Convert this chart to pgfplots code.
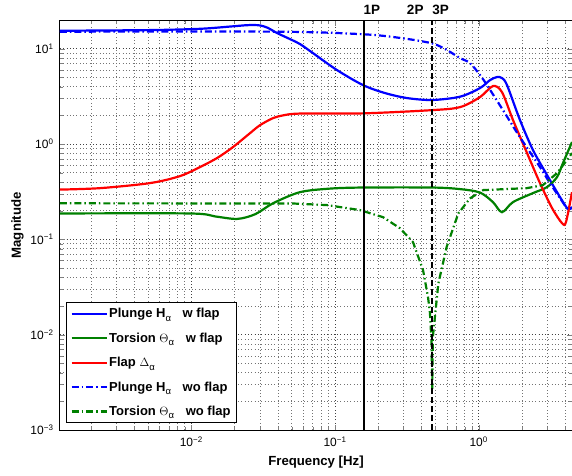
\documentclass[border=0pt]{standalone}
\usepackage{pgfplots}
\pgfplotsset{compat=1.18}
\usepackage{fontspec}
\setmainfont{Liberation Sans}
\newcommand{\logtick}{10\textsuperscript{\pgfmathtruncatemacro\myexp{round(\tick)}\ifnum\myexp<0 −\number-\myexp\relax\else\number\myexp\fi}}
\newcommand{\sub}[1]{\raisebox{-0.5ex}{\fontsize{9.5}{10}\selectfont\mdseries #1}}
\definecolor{mblue}{rgb}{0,0,1}
\definecolor{mgreen}{rgb}{0,0.5,0}
\definecolor{mred}{rgb}{1,0,0}
\tikzset{mdashdot/.style={dash pattern=on 7pt off 3pt on 1.5pt off 3pt}}
\begin{document}
\begin{tikzpicture}
\begin{axis}[name=ax,
  xmode=log, ymode=log, log basis x=10, log basis y=10,
  scale only axis, width=512pt, height=409.3pt,
  xmin=0.00122, xmax=4.46, ymin=1e-3, ymax=19.7,
  xticklabel={\logtick}, yticklabel={\logtick},
  tick label style={font=\fontsize{12}{14}\selectfont},
  xticklabel style={yshift=-3pt},
  yticklabel style={xshift=-3pt},
  xlabel={Frequency [Hz]}, ylabel={Magnitude},
  label style={font=\fontsize{13.2}{15}\selectfont\bfseries},
  xlabel style={yshift=-2pt},
  grid=both,
  major grid style={dash pattern=on 0.7pt off 2.6pt, black!75, line width=0.6pt},
  minor grid style={dash pattern=on 0.7pt off 2.6pt, black!55, line width=0.6pt},
  axis line style={line width=1pt},
  major tick length=5pt, minor tick length=3pt,
  clip mode=individual,
  legend cell align=left,
  legend style={at={(rel axis cs:0.0117,0.017)}, anchor=south west,
    font=\fontsize{13}{14}\selectfont\bfseries, draw=black, line width=1pt,
    row sep=10.5pt, inner xsep=4pt, inner ysep=4pt, nodes={inner sep=1.5pt}},
  legend image code/.code={\draw[#1] (0pt,0pt) -- (35pt,0pt);},
]
% Plunge w flap
\addplot[mblue, line width=2.2pt, smooth, tension=0.5] coordinates {
(0.00122,15.45) (0.00516,15.7) (0.01153,16.2) (0.0186,17.1) (0.0240,17.65) (0.0275,17.75) (0.0305,17.5) (0.0340,16.6)
(0.0396,14.6) (0.0488,12.6) (0.0571,11.2) (0.0703,9.0) (0.1032,5.98) (0.1566,4.16)
(0.2229,3.43) (0.317,3.04) (0.473,2.90) (0.741,3.14) (1.021,3.87) (1.199,4.69) (1.34,5.05)
(1.452,4.93) (1.574,4.16) (1.937,1.79) (2.387,0.865) (2.99,0.473) (3.68,0.278) (4.18,0.208) (4.46,0.218)};
\addlegendentry{Plunge H\sub{α}\hspace{0.9em}w flap}
% Torsion w flap
\addplot[mgreen, line width=2.2pt, smooth, tension=0.5] coordinates {
(0.00122,0.187) (0.00982,0.187) (0.01467,0.174) (0.0209,0.164) (0.0279,0.184) (0.0372,0.240)
(0.0571,0.313) (0.0923,0.341) (0.1566,0.350) (0.476,0.350) (0.741,0.337) (1.021,0.310)
(1.257,0.246) (1.452,0.193) (1.732,0.246) (2.387,0.306) (2.99,0.354) (3.51,0.451) (3.86,0.632) (4.46,1.05)};
\addlegendentry{Torsion $\Theta$\sub{α}\hspace{0.9em}w flap}
% Flap
\addplot[mred, line width=2.2pt, smooth, tension=0.5] coordinates {
(0.00122,0.333) (0.00233,0.345) (0.00519,0.390) (0.00837,0.462) (0.01149,0.574) (0.0151,0.713)
(0.0195,0.930) (0.0256,1.30) (0.0301,1.58) (0.0370,1.87) (0.0435,2.00) (0.0571,2.09)
(0.1566,2.10) (0.473,2.27) (0.741,2.44) (1.021,3.11) (1.257,4.06) (1.452,3.51) (1.732,1.79)
(2.17,0.805) (2.67,0.390) (3.24,0.213) (3.80,0.148) (4.05,0.152) (4.46,0.313)};
\addlegendentry{Flap $\Delta$\sub{α}}
% Plunge wo flap
\addplot[mblue, line width=2.2pt, mdashdot, smooth, tension=0.5] coordinates {
(0.00122,15.1) (0.0416,15.1) (0.1566,14.2) (0.283,13.0) (0.473,11.4) (0.601,9.69) (0.741,7.99)
(0.870,7.08) (1.021,5.30) (1.142,4.16) (1.476,2.27) (1.937,1.18) (2.67,0.574) (3.13,0.390)
(3.68,0.271) (4.18,0.208) (4.46,0.218)};
\addlegendentry{Plunge H\sub{α}\hspace{0.9em}wo flap}
% Torsion wo flap
\addplot[mgreen, line width=2.2pt, mdashdot] coordinates {
(0.00122,0.239) (0.0511,0.238) (0.0880,0.229) (0.149,0.203) (0.216,0.171) (0.283,0.131)
(0.349,0.0937) (0.410,0.0476) (0.444,0.0248) (0.458,0.0169) (0.470,0.00816) (0.475,0.0027)
(0.480,0.00951) (0.524,0.0345) (0.599,0.0836) (0.721,0.187) (0.870,0.269) (1.076,0.329)
(2.17,0.345) (2.80,0.371) (3.51,0.496) (4.11,0.679) (4.46,0.804)};
\addlegendentry{Torsion $\Theta$\sub{α}\hspace{0.9em}wo flap}
% 1P and 3P lines
\addplot[black, line width=2pt, forget plot] coordinates {(0.158,1e-3) (0.158,19.7)};
\addplot[black, line width=2.2pt, dash pattern=on 6pt off 3pt, forget plot] coordinates {(0.474,1e-3) (0.474,19.7)};
\node[anchor=west, inner sep=0pt, font=\fontsize{13.5}{15}\selectfont\bfseries] at (axis cs:0.158,25.5) {1P};
\node[anchor=west, inner sep=0pt, font=\fontsize{13.5}{15}\selectfont\bfseries] at (axis cs:0.316,25.5) {2P};
\node[anchor=west, inner sep=0pt, font=\fontsize{13.5}{15}\selectfont\bfseries] at (axis cs:0.474,25.5) {3P};
\end{axis}
\pgfresetboundingbox
\path[use as bounding box] ([xshift=-60pt,yshift=-45pt]ax.south west) rectangle ([yshift=20.7pt]ax.north east);
\end{tikzpicture}
\end{document}
